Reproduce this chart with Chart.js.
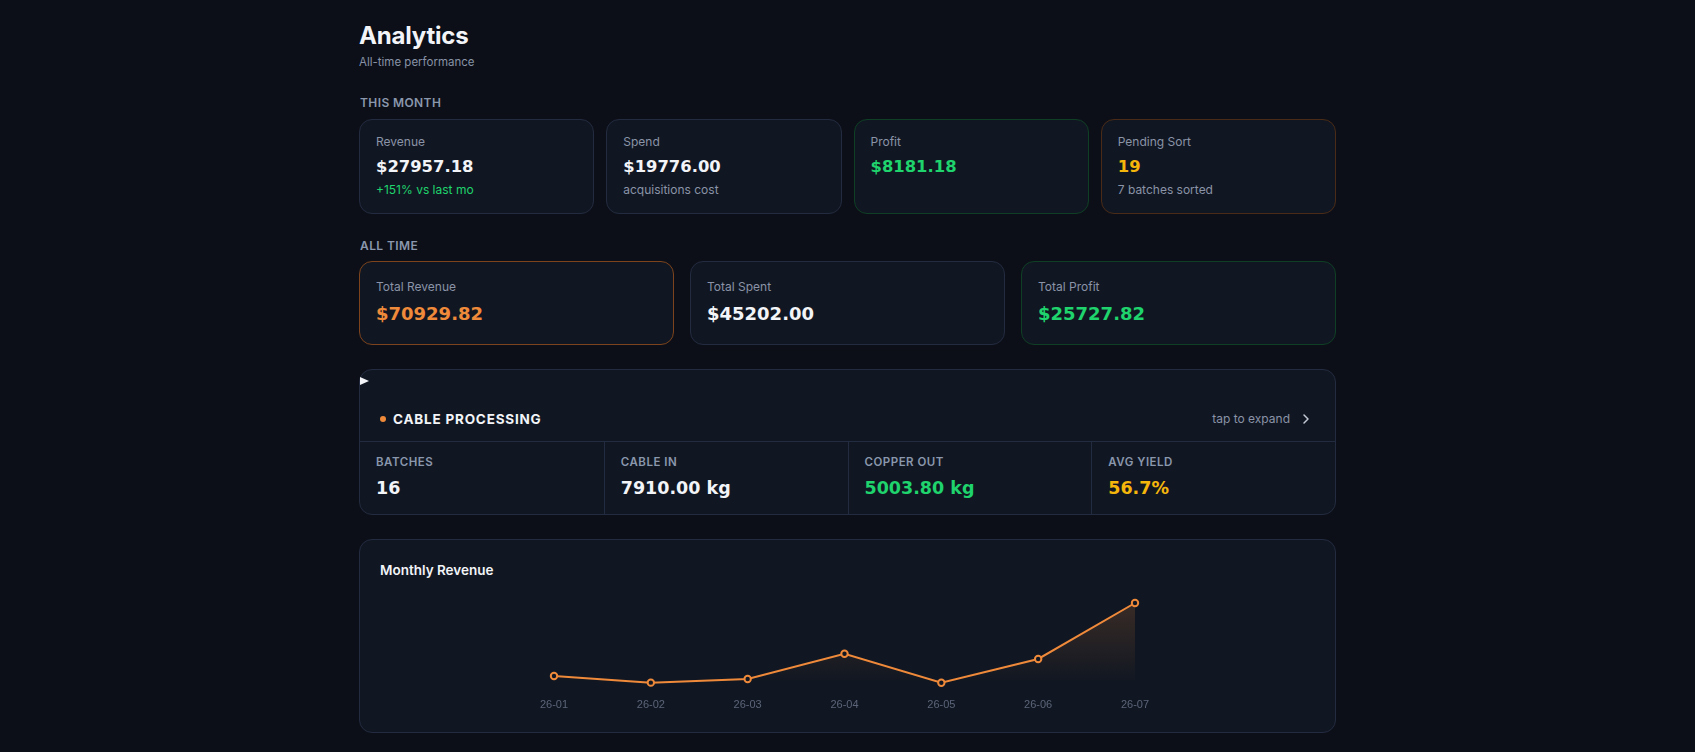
<!DOCTYPE html>
<html>
<head>
<meta charset="utf-8">
<title>Analytics</title>
<script src="https://cdn.jsdelivr.net/npm/chart.js"></script>
<style>
  * { box-sizing: border-box; margin: 0; padding: 0; }
  html, body { background: #0c0f17; overflow: hidden; }
  body { font-family: Inter, "Noto Sans", sans-serif; color: #f2f4f8; }
  .wrap { width: 977px; margin: 0 auto; padding-top: 21px; }
  h1 { font-size: 24px; line-height: 30px; font-weight: 700; letter-spacing: -0.2px; }
  .sub { font-size: 11.5px; line-height: 16px; color: #8892a6; margin-top: 3px; }
  .sec { font-size: 12px; line-height: 16px; font-weight: 600; color: #8a97ad; letter-spacing: 0.4px; margin-left: 1px; }
  .card { background: #111722; border: 1px solid #232b40; border-radius: 13px; }
  .row1 { display: grid; grid-template-columns: repeat(4, 1fr); gap: 12px; margin-top: 8px; }
  .row1 .card { height: 95px; padding: 14px 16px 0; }
  .row2 { display: grid; grid-template-columns: repeat(3, 1fr); gap: 16px; margin-top: 7px; }
  .row2 .card { height: 84px; padding: 17px 16px 0; }
  .lbl { font-size: 12px; line-height: 16px; color: #8a93a7; }
  .val { font-family: "DejaVu Sans", sans-serif; font-weight: 700; font-size: 16.4px; line-height: 22px; margin-top: 6px; }
  .row2 .val { font-size: 18px; line-height: 26px; margin-top: 6px; }
  .note { font-size: 12px; line-height: 16px; color: #8a93a7; margin-top: 4px; }
  .green { color: #1fd36d; }
  .orange { color: #f08a3b; }
  .yellow { color: #f5b60c; }
  .b-green { border-color: #0f3f25; }
  .b-brown { border-color: #4a2b17; }
  .b-orange { border-color: #7c431c; }
  .gap1 { margin-top: 25px; }
  .gap2 { margin-top: 24px; }
  .cable { margin-top: 24px; height: 146px; position: relative; }
  .marker { position: absolute; left: 0; top: 7px; width: 0; height: 0;
    border-top: 4.5px solid transparent; border-bottom: 4.5px solid transparent; border-left: 9px solid #f2f4f8; }
  .head { height: 72px; display: flex; align-items: flex-end; padding: 0 23px 13px 20px; border-bottom: 1px solid #232b40; }
  .dot { width: 6px; height: 6px; border-radius: 50%; background: #f08a3b; margin-right: 7px; margin-bottom: 6px; }
  .head .t { font-size: 13.5px; line-height: 18px; font-weight: 700; letter-spacing: 0.8px; }
  .head .x { margin-left: auto; font-size: 12px; line-height: 18px; color: #8a93a7; display: flex; align-items: center; }
  .head .x svg { margin-left: 10px; }
  .stats { display: grid; grid-template-columns: repeat(4, 1fr); height: 72px; }
  .stats div.c { padding: 12px 16px 0; border-left: 1px solid #232b40; }
  .stats div.c:first-child { border-left: none; }
  .stats .k { font-size: 11.5px; line-height: 16px; font-weight: 600; color: #8a97ad; letter-spacing: 0.5px; }
  .stats .v { font-family: "DejaVu Sans", sans-serif; font-weight: 700; font-size: 17.5px; line-height: 24px; margin-top: 6px; }
  .chartcard { margin-top: 24px; height: 194px; padding: 20px 20px 0; overflow: hidden; }
  .chartcard .t { font-size: 13.5px; line-height: 20px; font-weight: 600; }
  .box { position: relative; height: 144px; margin-top: 10px; }
</style>
</head>
<body>
<div class="wrap">
  <h1>Analytics</h1>
  <div class="sub">All-time performance</div>

  <div class="sec gap1">THIS MONTH</div>
  <div class="row1">
    <div class="card"><div class="lbl">Revenue</div><div class="val">$27957.18</div><div class="note green">+151% vs last mo</div></div>
    <div class="card"><div class="lbl">Spend</div><div class="val">$19776.00</div><div class="note">acquisitions cost</div></div>
    <div class="card b-green"><div class="lbl">Profit</div><div class="val green">$8181.18</div></div>
    <div class="card b-brown"><div class="lbl">Pending Sort</div><div class="val yellow">19</div><div class="note">7 batches sorted</div></div>
  </div>

  <div class="sec gap2">ALL TIME</div>
  <div class="row2">
    <div class="card b-orange"><div class="lbl">Total Revenue</div><div class="val orange">$70929.82</div></div>
    <div class="card"><div class="lbl">Total Spent</div><div class="val">$45202.00</div></div>
    <div class="card b-green"><div class="lbl">Total Profit</div><div class="val green">$25727.82</div></div>
  </div>

  <div class="card cable">
    <div class="marker"></div>
    <div class="head">
      <div class="dot"></div>
      <div class="t">CABLE PROCESSING</div>
      <div class="x">tap to expand
        <svg width="12" height="12" viewBox="0 0 12 12"><polyline points="4,2 8,6 4,10" fill="none" stroke="#c3c9d5" stroke-width="1.5" stroke-linecap="round" stroke-linejoin="round"/></svg>
      </div>
    </div>
    <div class="stats">
      <div class="c"><div class="k">BATCHES</div><div class="v">16</div></div>
      <div class="c"><div class="k">CABLE IN</div><div class="v">7910.00 kg</div></div>
      <div class="c"><div class="k">COPPER OUT</div><div class="v green">5003.80 kg</div></div>
      <div class="c"><div class="k">AVG YIELD</div><div class="v yellow">56.7%</div></div>
    </div>
  </div>

  <div class="card chartcard">
    <div class="t">Monthly Revenue</div>
    <div class="box"><canvas id="revChart"></canvas></div>
  </div>
</div>

<script>
// revenue per month (last month = this month's revenue)
const months = ['26-01', '26-02', '26-03', '26-04', '26-05', '26-06', '26-07'];
const revenue = [5995.40, 4025.00, 5130.20, 12710.00, 3974.00, 11138.04, 27957.18];

const orange = '#f08a3b';

new Chart(document.querySelector('#revChart'), {
    type: 'line',
    data: {
        labels: months,
        datasets: [{
            data: revenue,
            borderColor: orange,
            borderWidth: 2,
            tension: 0,
            pointRadius: 3.2,
            pointBorderWidth: 2,
            pointBackgroundColor: '#111722',
            pointBorderColor: orange,
            clip: false,
            fill: 'start',
            backgroundColor: (ctx) => {
                const area = ctx.chart.chartArea;
                if (!area) return 'rgba(240,138,59,0.15)';
                const g = ctx.chart.ctx.createLinearGradient(0, area.top, 0, area.bottom);
                g.addColorStop(0, 'rgba(240,138,59,0.18)');
                g.addColorStop(1, 'rgba(240,138,59,0)');
                return g;
            }
        }]
    },
    options: {
        responsive: true,
        maintainAspectRatio: false,
        animation: false,
        layout: { padding: { top: 13, bottom: 6, left: 174, right: 180 } },
        plugins: { legend: { display: false }, tooltip: { enabled: false } },
        scales: {
            x: {
                grid: { display: false, drawTicks: false },
                border: { display: false },
                ticks: { color: '#5b6579', padding: 16, font: { size: 11 } }
            },
            y: {
                display: false,
                min: Math.min(...revenue),
                max: Math.max(...revenue)
            }
        }
    }
});
</script>
</body>
</html>
